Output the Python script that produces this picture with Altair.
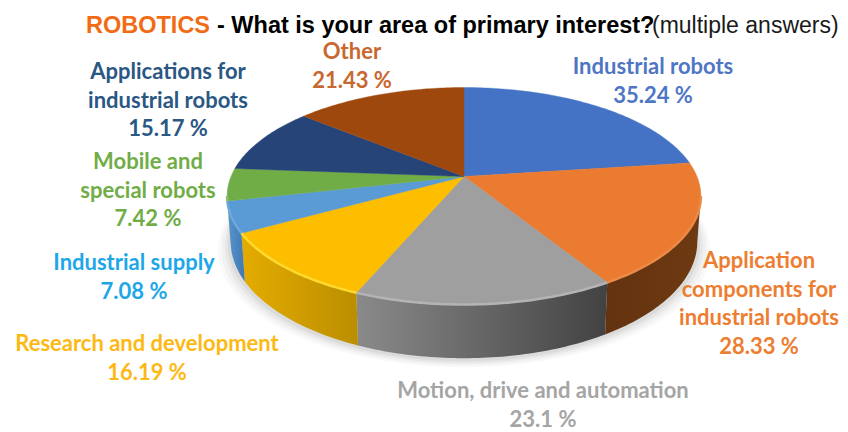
import math
import altair as alt

# ---- chart values ----
categories = ["Industrial robots", "Application components for industrial robots",
              "Motion, drive and automation", "Research and development",
              "Industrial supply", "Mobile and special robots",
              "Applications for industrial robots", "Other"]
values = [35.24, 28.33, 23.1, 16.19, 7.08, 7.42, 15.17, 21.43]
slice_colors = ["#4472c4", "#ea7b30", "#9f9f9f", "#fdbe00", "#5b9bd5", "#70ad47", "#264478", "#9e480e"]
rim_colors = ["#5a86d0", "#ec8a48", "#b4b4b4", "#ffd92e", "#6ea8de", "#8cc066", "#3a5a90", "#b05a20"]
side_stops = [
    ["#3a62a8", "#3a62a8"], ["#63320f", "#6e3a12"], ["#8a8a8a", "#424242"], ["#e4ac00", "#bb8e00"],
    ["#5596d2", "#4378ad"], ["#5d913a", "#5d913a"], ["#1f3a66", "#1f3a66"], ["#7f3a0b", "#7f3a0b"],
]
label_lines = [
    ["Industrial robots", "35.24 %"], ["Application", "components for", "industrial robots", "28.33 %"],
    ["Motion, drive and automation", "23.1 %"], ["Research and development", "16.19 %"],
    ["Industrial supply", "7.08 %"], ["Mobile and", "special robots", "7.42 %"],
    ["Applications for", "industrial robots", "15.17 %"], ["Other", "21.43 %"],
]
label_colors = ["#4f76c4", "#ed7d31", "#a5a5a5", "#fdb913", "#1ea7e8", "#70ad47", "#2a5783", "#c8682e"]

# ---- layout (image pixels) ----
label_anchor = [(653, 67), (759, 261), (543, 391), (147, 344), (134, 263), (148, 162), (168, 72), (352, 52)]
LINE = 28.7
MARGIN = 8
CX, CY = 464 - MARGIN, 176.5 - MARGIN
K, A, B = 0.18, 105.0, 233.0
DEPTH = 44.0
BOTTOM_X = 0.985
VIS_A, VIS_B = 100.4, 259.6


def top(theta, r=1.0):
    t = math.radians(theta)
    u, v = r * math.sin(t), r * math.cos(t)
    w = 1 + K * v
    return [CX + B * u / w, CY - A * v / w]


def bottom(theta, r=1.0):
    t = math.radians(theta)
    u, v = r * math.sin(t), r * math.cos(t)
    w = 1 + K * v
    return [CX + BOTTOM_X * B * u / w, CY + (DEPTH - A * v) / w]


def arc(f, a, b, r=1.0):
    n = max(2, int(abs(b - a)) + 2)
    return [f(a + (b - a) * i / (n - 1), r) for i in range(n)]


def feature(coords, fill, kind="Polygon"):
    geom = coords if kind == "LineString" else [coords + [coords[0]]]
    return {"type": "Feature", "geometry": {"type": kind, "coordinates": geom}, "properties": {"fill": fill}}


def flat(chart):
    return chart.project(type="identity", scale=1, translate=[0, 0])


total = sum(values)
edges = [0.0]
for val in values:
    edges.append(edges[-1] + val / total * 360)

layers = []

# soft shadow under the pie
for grow, shift, op in [(1.055, 9, 0.025), (1.04, 7, 0.03), (1.025, 5, 0.04), (1.012, 3, 0.05)]:
    pts = [[CX + (p[0] - CX) * grow, p[1] + shift] for p in arc(bottom, 0, 360)]
    layers.append(flat(alt.Chart(alt.Data(values=[feature(pts, "#000000")])).mark_geoshape(
        fill="#000000", opacity=op, strokeWidth=0)))

# side walls
for i in range(len(values)):
    a, b = max(edges[i], VIS_A), min(edges[i + 1], VIS_B)
    if b <= a:
        continue
    poly = arc(top, a, b) + arc(bottom, a, b)[::-1]
    c0, c1 = side_stops[i]
    grad = alt.Gradient(gradient="linear", x1=0, x2=1, y1=0, y2=0,
                        stops=[alt.GradientStop(offset=0, color=c0), alt.GradientStop(offset=1, color=c1)])
    layers.append(flat(alt.Chart(alt.Data(values=[feature(poly, c0)])).mark_geoshape(
        fill=grad, strokeWidth=0)))

# top face
tops = []
for i, col in enumerate(slice_colors):
    tops.append(feature([top(0, 0)] + arc(top, edges[i], edges[i + 1]), col))
layers.append(flat(alt.Chart(alt.Data(values=tops)).mark_geoshape(strokeWidth=0.4).encode(
    fill=alt.Color("properties.fill:N", scale=None, legend=None),
    stroke=alt.Color("properties.fill:N", scale=None, legend=None),
)))

# lit bevel along the near rim
rims = []
for i in range(len(values)):
    a, b = max(edges[i], VIS_A), min(edges[i + 1], VIS_B)
    if b > a:
        rims.append(feature(arc(top, a, b), rim_colors[i], "LineString"))
layers.append(flat(alt.Chart(alt.Data(values=rims)).mark_geoshape(filled=False, strokeWidth=2.5).encode(
    stroke=alt.Color("properties.fill:N", scale=None, legend=None),
)))

# slice labels
rows = []
for (ax, ay), lines, col in zip(label_anchor, label_lines, label_colors):
    for j, line in enumerate(lines):
        rows.append({"t": line, "px": ax - MARGIN, "py": ay - MARGIN + j * LINE, "c": col})
layers.append(alt.Chart(alt.Data(values=rows)).mark_text(
    font="Lato", fontWeight="bold", fontSize=22, align="center", baseline="middle"
).encode(
    x=alt.X("px:Q", scale=None, axis=None), y=alt.Y("py:Q", scale=None, axis=None),
    text="t:N", color=alt.Color("c:N", scale=None, legend=None),
))

# title pieces
title_parts = [("ROBOTICS", "#f26b12", "bold", 86, 23.5), ("- What is your area of primary interest?", "#000000", "bold", 217, 23.5),
               ("(multiple answers)", "#1a1a1a", "normal", 652, 23)]
for txt, col, weight, tx, fs in title_parts:
    layers.append(alt.Chart(alt.Data(values=[{"t": txt}])).mark_text(
        font="Liberation Sans", fontWeight=weight, fontSize=fs, align="left", baseline="alphabetic", color=col,
    ).encode(x=alt.value(tx - MARGIN), y=alt.value(33 - MARGIN), text="t:N"))

chart = alt.layer(*layers).properties(
    width=832, height=424, padding=0,
    autosize=alt.AutoSizeParams(type="none"),
).configure_view(stroke=None).resolve_scale(x="independent", y="independent")

chart.save("out.html", embed_options={"renderer": "svg", "actions": False})
